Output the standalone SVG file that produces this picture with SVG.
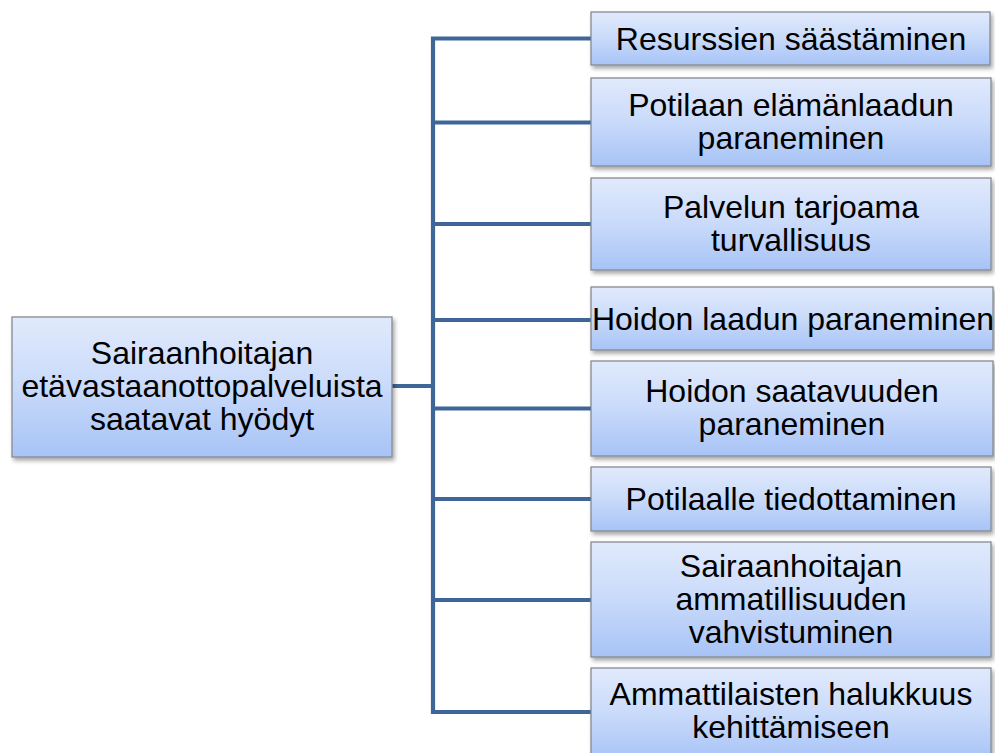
<svg xmlns="http://www.w3.org/2000/svg" width="995" height="753" viewBox="0 0 995 753">
<style>
.box{fill:url(#g);stroke:#858a92;stroke-width:1.3;filter:url(#sh)}
.t{font-family:"Liberation Sans",Arial,sans-serif;font-size:32px;fill:#000;text-anchor:middle}
.c{fill:none;stroke:#3f6699;stroke-width:4.2;stroke-linejoin:miter}
</style>
<defs>
<linearGradient id="g" x1="0" y1="0" x2="0" y2="1">
<stop offset="0" stop-color="#e1eafc"/>
<stop offset="0.5" stop-color="#c9dafa"/>
<stop offset="1" stop-color="#a7c3f6"/>
</linearGradient>
<filter id="sh" x="-5%" y="-10%" width="115%" height="130%">
<feDropShadow dx="2" dy="3" stdDeviation="2" flood-color="#000" flood-opacity="0.35"/>
</filter>
</defs>
<rect width="995" height="753" fill="#fff"/>
<g id="connectors">
<path class="c" d="M593 38.5H433V712H593"/>
<path class="c" d="M433 122.5H593M433 224H593M433 320H593M433 408.5H593M433 499H593M433 600H593M392 386H433"/>
</g>
<g id="root">
<rect class="box" x="12" y="317" width="380" height="140"/>
<text class="t" x="202" y="364">Sairaanhoitajan</text>
<text class="t" x="202" y="397">etävastaanottopalveluista</text>
<text class="t" x="202" y="430">saatavat hyödyt</text>
</g>
<g id="n1">
<rect class="box" x="591" y="12" width="399" height="53"/>
<text class="t" x="791" y="50">Resurssien säästäminen</text>
</g>
<g id="n2">
<rect class="box" x="591" y="78" width="400" height="88"/>
<text class="t" x="791" y="116">Potilaan elämänlaadun</text>
<text class="t" x="791" y="149">paraneminen</text>
</g>
<g id="n3">
<rect class="box" x="591" y="178" width="400" height="92"/>
<text class="t" x="791" y="218">Palvelun tarjoama</text>
<text class="t" x="791" y="251">turvallisuus</text>
</g>
<g id="n4">
<rect class="box" x="591" y="287" width="402" height="63"/>
<text class="t" x="793" y="330">Hoidon laadun paraneminen</text>
</g>
<g id="n5">
<rect class="box" x="591" y="361" width="402" height="95"/>
<text class="t" x="792" y="402">Hoidon saatavuuden</text>
<text class="t" x="792" y="435">paraneminen</text>
</g>
<g id="n6">
<rect class="box" x="591" y="467" width="400" height="64"/>
<text class="t" x="791" y="510">Potilaalle tiedottaminen</text>
</g>
<g id="n7">
<rect class="box" x="591" y="542" width="400" height="115"/>
<text class="t" x="791" y="577">Sairaanhoitajan</text>
<text class="t" x="791" y="610">ammatillisuuden</text>
<text class="t" x="791" y="643">vahvistuminen</text>
</g>
<g id="n8">
<rect class="box" x="591" y="668" width="400" height="92"/>
<text class="t" x="791" y="705">Ammattilaisten halukkuus</text>
<text class="t" x="791" y="738">kehittämiseen</text>
</g>
</svg>
